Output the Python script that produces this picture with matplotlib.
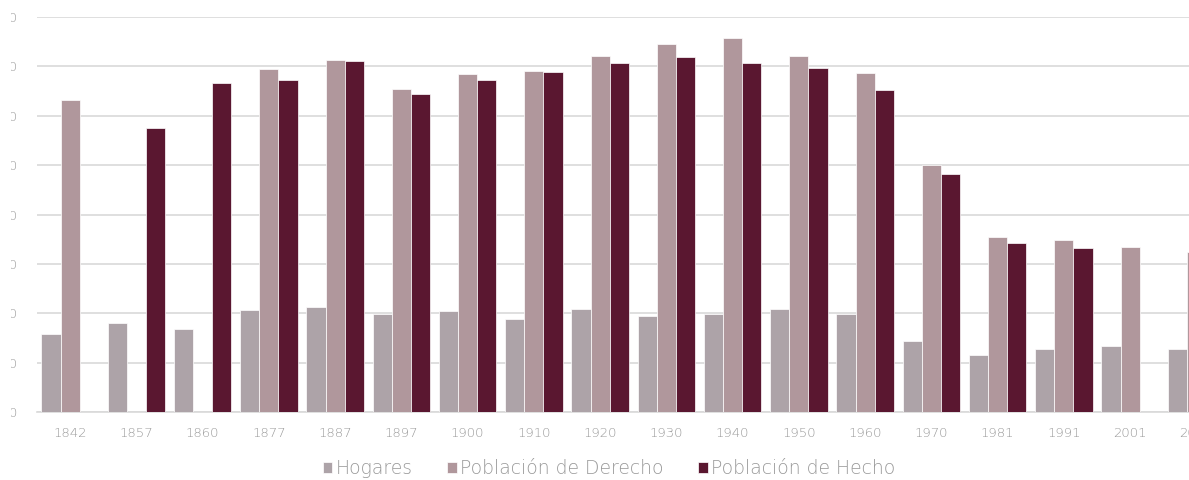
import numpy as np
import matplotlib
matplotlib.use("Agg")
import matplotlib.pyplot as plt
from matplotlib.transforms import Bbox

years = ["1842", "1857", "1860", "1877", "1887", "1897", "1900", "1910", "1920",
         "1930", "1940", "1950", "1960", "1970", "1981", "1991", "2001", "2011"]
hogares = [158, 180, 168, 207, 213, 198, 205, 188, 209, 194, 198, 209, 198, 144, 115, 128, 134, 128]
derecho = [632, np.nan, np.nan, 695, 713, 655, 684, 690, 722, 746, 758, 721, 686, 500, 354, 348, 334, 324]
hecho = [np.nan, 575, 666, 672, 710, 645, 672, 689, 707, 720, 707, 696, 653, 483, 342, 332, np.nan, np.nan]
series_names = ["Hogares", "Población de Derecho", "Población de Hecho"]
yticks = [0, 100, 200, 300, 400, 500, 600, 700, 800]

colors = ["#ADA3A8", "#B0979C", "#5A1730"]
text_color = "#999999"
grid_color = "#D9D9D9"

plt.rcParams['font.family'] = ['DejaVu Sans']

fig = plt.figure(figsize=(11.89, 4.8), dpi=100)
ax = fig.add_axes([37 / 1189, 68 / 480, 1192.5 / 1189, 395 / 480])

x = np.arange(len(years))
w = 0.29
for i, (vals, name) in enumerate(zip([hogares, derecho, hecho], series_names)):
    ax.bar(x + (i - 1) * w, vals, width=w, color=colors[i], edgecolor="#ffffff",
           linewidth=0.5, label=name, zorder=3)

ax.set_xlim(-0.5, len(years) - 0.5)
ax.set_ylim(0, 800)
ax.set_yticks(yticks)
ax.set_yticklabels([str(v) for v in yticks])
ax.set_xticks(x)
ax.set_xticklabels(years)
ax.yaxis.grid(True, color=grid_color, linewidth=1.2, zorder=0)
ax.set_axisbelow(True)
for s in ["top", "right", "left"]:
    ax.spines[s].set_visible(False)
ax.spines["bottom"].set_color(grid_color)
ax.spines["bottom"].set_linewidth(1.2)
ax.tick_params(axis="both", length=0, colors=text_color, labelsize=9.5)
ax.tick_params(axis="x", pad=11)
ax.tick_params(axis="y", pad=14)
for lbl in ax.get_xticklabels() + ax.get_yticklabels():
    lbl.set_fontweight("light")

leg = fig.legend(loc="center", bbox_to_anchor=(0.5124, 0.024), ncol=3, frameon=False,
                 fontsize=13.5, handlelength=0.5, handleheight=0.5, handletextpad=0.18,
                 columnspacing=1.85)
for t in leg.get_texts():
    t.set_color(text_color)
    t.set_fontweight("light")

# the reference is cropped at its left edge: only the last digit of the y labels shows
fig.canvas.draw()
clip = Bbox.from_extents(11, 0, 1189, 480)
for tick in ax.yaxis.get_major_ticks():
    tick.label1.set_clip_box(clip)
    tick.label1.set_clip_on(True)

fig.savefig("out.png", dpi=100)
